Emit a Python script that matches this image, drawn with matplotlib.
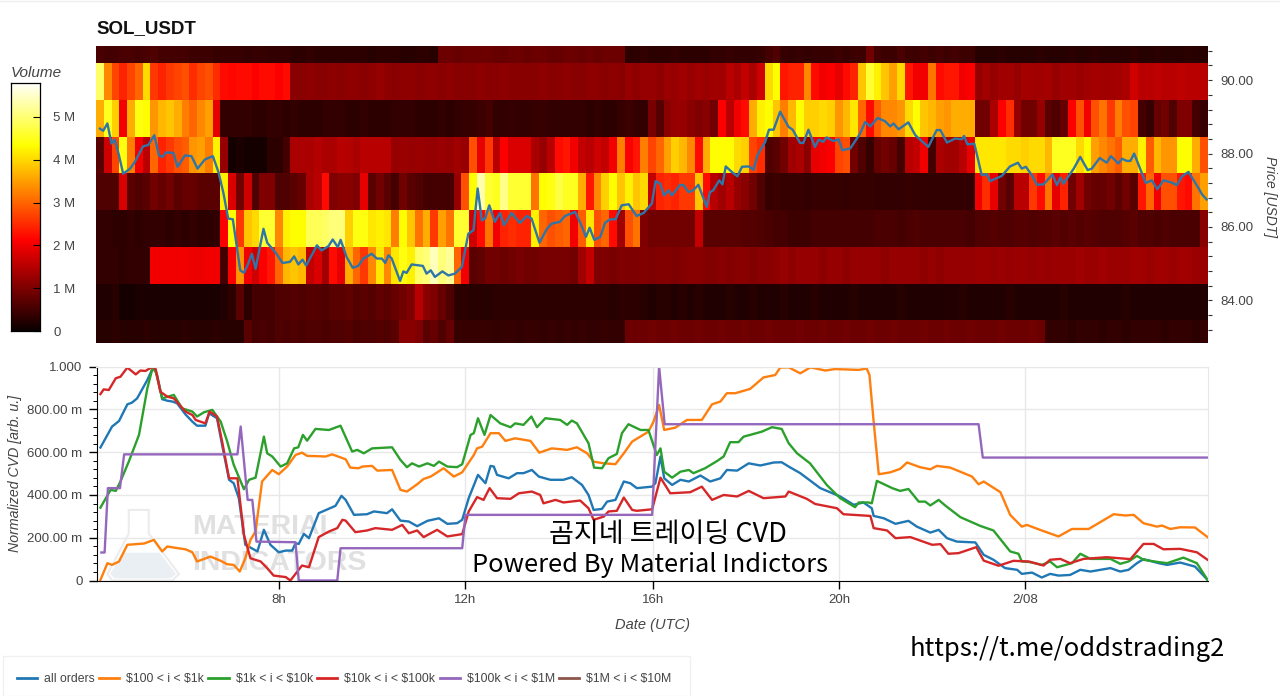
import numpy as np
import matplotlib
matplotlib.use('Agg')
import matplotlib.pyplot as plt
from matplotlib.lines import Line2D
from matplotlib.ticker import MultipleLocator, FixedLocator, FuncFormatter
from matplotlib.patches import Polygon, Rectangle

W, H = 1280, 696
plt.rcParams['font.family'] = ['Liberation Sans', 'DejaVu Sans']

# volume per 10 min bin, in millions, one list per price bin (top to bottom)
vol_r0 = [.55,.5,.5,.55,.55,.5,.55,.6,.5,.5,
          .5,.5,.45,.45,.45,.4,.4,.4,.4,.35,
          .4,.4,.35,.35,.35,.3,.3,.35,.3,.3,
          .3,.3,.3,.3,.3,.25,.3,.3,.3,.25,
          .25,.3,.3,.25,.85,.85,.8,.85,.85,.85,
          .85,.8,.8,.85,.85,.8,.85,.85,.8,.8,
          .85,.85,.8,.85,.8,.85,.85,.85,.3,.3,
          .35,.3,.3,.3,.35,.3,.3,.3,.3,.35,
          .35,.4,.35,.35,.35,.4,.5,.6,.4,.35,
          .4,.35,.4,.4,.4,.45,.4,.45,.45,.9,
          .5,.45,.45,.55,.45,.45,.5,.45,.5,.45,
          .5,.45,.45,.25,.25,.25,.3,.25,.25,.25,
          .25,.3,.25,.25,.25,.3,.25,.25,.3,.25,
          .25,.25,.25,.3,.25,.25,.3,.25,.25,.25,.3,.25,.25]
vol_r1 = [4.9,3.3,2.7,2.4,2.7,3.0,4.0,2.6,2.4,2.6,
          2.7,2.8,2.5,2.7,2.8,2.5,2.2,2.15,2.2,2.2,
          2.1,2.2,2.2,2.1,2.2,1.1,1.1,1.15,1.1,1.1,
          1.15,1.1,1.15,1.15,1.1,1.15,1.2,1.15,1.1,1.15,
          1.15,1.1,1.15,1.15,1.1,1.15,1.1,1.1,1.1,1.15,
          1.1,1.1,1.15,1.1,1.1,1.1,1.1,1.15,1.1,1.1,
          1.15,1.1,1.1,1.15,1.15,1.1,1.15,1.1,1.2,1.15,
          1.2,1.2,1.15,1.25,1.2,1.3,1.2,1.3,1.25,1.3,
          1.3,1.5,1.4,1.6,1.4,1.7,4.0,4.3,2.3,2.4,
          2.4,3.3,2.2,2.0,2.1,1.9,2.2,2.4,3.8,4.6,
          4.2,3.8,3.5,4.0,2.3,2.0,2.0,3.1,2.2,2.3,
          2.3,2.0,2.1,1.2,1.3,1.2,1.3,1.3,1.2,1.35,
          1.3,1.3,1.35,1.2,1.3,1.3,1.25,1.3,1.35,1.3,
          1.3,1.35,1.4,1.7,1.5,1.5,1.55,1.5,1.5,1.55,1.5,1.5,1.5]
vol_r2 = [3.6,4.5,3.9,2.0,3.6,4.4,4.3,3.4,3.7,3.8,
          3.6,3.2,3.0,3.3,3.5,1.9,.35,.35,.35,.35,
          .3,.3,.35,.35,.3,.35,.3,.3,.3,.35,
          .35,.35,.3,.3,.35,.3,.3,.3,.35,.35,
          .35,.3,.3,.3,.35,.3,.35,.4,.4,.45,
          .5,.35,.35,.4,.35,.35,.4,.4,.35,.35,
          .35,.35,.35,.3,.35,.3,.3,.4,.45,.35,
          .35,.95,.65,1.1,1.2,1.2,1.1,1.0,1.1,.9,
          2.1,1.5,2.0,2.2,3.6,4.2,4.3,3.8,3.2,3.7,
          4.3,3.9,3.9,4.0,3.9,3.4,3.7,4.1,3.0,2.2,
          2.9,3.3,3.3,3.4,4.0,4.3,3.8,3.7,3.5,3.4,
          3.6,3.6,3.6,.9,.9,1.4,2.1,2.5,1.2,.9,
          .9,1.2,.7,.6,.8,2.1,2.8,2.0,2.8,3.1,
          2.6,3.2,2.8,2.7,.5,.4,.8,.9,.6,1.0,1.0,.5,.4]
vol_r3 = [.7,1.7,2.7,4.4,3.2,2.0,1.5,3.0,2.4,2.6,
          2.8,2.9,3.4,3.5,3.2,4.2,1.2,.1,.15,.1,
          .1,.1,.3,.3,.5,1.4,1.4,1.4,1.45,1.4,
          1.4,1.5,1.45,1.4,1.5,1.5,1.5,1.5,1.2,1.25,
          1.2,1.25,1.2,1.2,1.25,1.2,1.3,1.2,2.8,1.9,
          2.6,1.5,2.1,1.8,1.8,1.8,1.4,1.2,1.5,2.2,
          2.3,2.0,1.6,1.5,1.7,1.6,2.0,3.2,2.1,2.3,
          3.2,2.7,3.0,3.5,3.9,3.7,3.3,2.2,3.6,4.3,
          4.3,4.3,4.0,3.9,2.7,2.5,.6,.7,.9,1.3,
          1.4,1.1,1.9,2.0,2.1,2.7,2.8,.9,.6,.4,
          .8,.9,.8,.5,1.5,1.6,2.0,.5,1.4,1.3,
          1.3,1.5,1.9,4.1,4.1,4.1,4.1,4.0,4.0,3.9,
          4.0,4.0,3.7,4.5,4.5,4.5,4.0,4.3,3.5,3.3,
          3.1,2.9,3.6,3.6,4.2,2.9,3.7,3.4,3.4,4.3,4.3,3.6,2.8]
vol_r4 = [.6,.6,.6,1.8,.7,.6,.7,.9,.8,.9,
          .7,.8,.8,.7,.7,.7,4.2,1.8,.9,1.7,
          .6,1.0,1.0,.6,.6,.7,.8,1.4,1.5,2.2,
          1.0,1.1,1.1,1.0,1.9,.7,.9,.7,.5,.9,
          .7,.6,.5,.5,.5,.5,1.2,2.8,4.3,5.3,
          4.6,4.5,5.1,4.6,4.6,4.6,3.1,4.3,4.4,4.7,
          4.5,4.5,3.6,2.3,3.3,3.9,4.3,3.8,4.2,3.8,
          4.0,1.6,2.4,2.5,2.4,2.6,2.6,3.8,2.2,1.5,
          1.3,1.5,1.2,1.1,.9,.6,.4,.45,.4,.4,
          .4,.35,.4,.4,.4,.4,.35,.4,.4,.4,
          .35,.35,.35,.35,.4,.35,.35,.35,.35,.35,
          .35,.35,.35,2.0,2.5,1.9,.9,.7,1.5,1.5,
          2.6,2.2,3.1,1.9,2.4,.9,1.3,.9,.8,.8,
          .9,.7,.9,.7,2.3,3.0,2.0,2.8,2.8,2.3,2.2,3.1,3.5]
vol_r5 = [.35,.35,.3,.3,.35,.3,.35,.35,.35,.3,
          .35,.3,.35,.3,.3,.35,2.1,4.3,2.6,3.8,
          4.0,4.6,4.6,3.3,4.2,4.3,4.3,4.8,4.8,4.9,
          5.0,5.0,3.9,4.4,4.4,4.1,4.2,4.1,3.2,4.3,
          3.8,3.1,3.6,2.6,3.5,3.1,4.6,4.6,1.7,2.2,
          3.1,2.0,2.4,2.5,2.4,2.4,4.2,3.0,2.8,2.9,
          3.0,2.0,2.9,4.1,2.8,3.0,2.2,1.3,2.8,3.1,
          1.0,.9,.9,.9,.9,.9,.9,1.6,.7,.7,
          .7,.7,.7,.65,.65,.6,.55,.5,.5,.45,
          .45,.45,.5,.5,.5,.5,.5,.5,.5,.5,
          .55,.55,.55,.5,.55,.6,.55,.55,.55,.55,
          .55,.55,.5,.6,.6,.65,.6,.6,.65,.65,
          .6,.65,.65,.7,.65,.7,.65,.7,.65,.6,
          .6,.6,.65,.7,.6,.6,.55,.6,.55,.55,.55,.55,1.1]
vol_r6 = [.35,.35,.35,.3,.35,.35,.35,2.0,2.0,2.0,
          2.0,2.0,1.95,1.95,2.0,2.0,.5,2.1,3.4,2.0,
          1.7,2.1,2.3,3.0,3.7,3.8,3.7,1.6,1.8,1.3,
          2.2,1.9,3.6,3.0,2.6,3.3,4.1,3.3,4.1,4.4,
          4.2,4.9,5.0,5.4,5.0,5.2,3.0,2.0,.7,.75,
          .9,.9,.85,.9,.95,.9,.9,.95,.95,.95,
          .95,.9,1.3,1.6,1.0,1.0,.95,1.0,1.0,1.0,
          1.05,1.0,1.05,1.05,1.0,1.05,1.1,1.1,1.05,1.05,
          1.1,1.05,1.1,1.1,1.05,1.1,1.1,1.15,1.2,1.15,
          1.2,1.2,1.2,1.15,1.2,1.2,1.15,1.2,1.2,1.2,
          1.2,1.15,1.2,1.2,1.2,1.2,1.15,1.2,1.15,1.2,
          1.2,1.2,1.2,1.25,1.25,1.2,1.25,1.2,1.25,1.25,
          1.2,1.25,1.2,1.25,1.25,1.25,1.3,1.25,1.25,1.3,
          1.25,1.25,1.25,1.3,1.3,1.25,1.3,1.3,1.25,1.3,1.3,1.25,1.25]
vol_r7 = [.2,.2,.25,.1,.1,.15,.15,.15,.15,.15,
          .15,.15,.15,.15,.15,.15,.2,.3,.7,.3,
          .5,.5,.5,.6,.6,.65,.6,.65,.65,.6,
          .7,.7,.75,.65,.7,.65,.75,.7,.8,.9,
          1.0,1.5,1.1,1.0,.8,.6,.3,.3,.25,.25,
          .25,.3,.3,.3,.3,.3,.3,.3,.3,.3,
          .3,.3,.3,.3,.3,.3,.25,.3,.3,.3,
          .25,.2,.25,.25,.2,.25,.2,.25,.2,.2,
          .2,.25,.2,.2,.25,.2,.2,.2,.25,.2,
          .2,.2,.25,.2,.2,.2,.2,.25,.2,.2,
          .2,.2,.2,.25,.2,.2,.2,.2,.2,.2,
          .2,.25,.2,.2,.2,.2,.2,.25,.2,.2,
          .2,.2,.2,.2,.25,.2,.2,.2,.2,.2,
          .2,.2,.25,.2,.2,.2,.2,.2,.2,.2,.2,.2,.2]
vol_r8 = [.25,.25,.3,.25,.25,.25,.3,.25,.25,.25,
          .25,.3,.25,.25,.25,.3,.25,.25,.25,.7,
          .5,.55,.5,.6,.55,.6,.55,.6,.6,.55,
          .6,.6,.65,.55,.6,.6,.65,.6,.7,1.1,
          1.1,1.0,.7,.8,.6,.8,.4,.4,.4,.4,
          .4,.35,.4,.4,.35,.4,.4,.35,.4,.35,
          .4,.35,.4,.35,.35,.4,.35,.35,.85,.85,
          .85,.9,.85,.85,.9,.85,.85,.9,.85,.85,
          .9,.85,.85,.9,.85,.85,.9,.85,.85,.85,
          .9,.85,.85,.9,.85,.85,.9,.85,.85,.9,
          .85,.85,.9,.85,.85,.85,.9,.85,.85,.9,
          .85,.85,.9,.85,.85,.85,.9,.85,.85,.85,
          .9,.85,.35,.35,.35,.3,.35,.35,.35,.3,
          .35,.35,.3,.35,.35,.35,.35,.3,.35,.35,.35,.3,.35]
price_edges = [82.84, 83.46, 84.46, 85.46, 86.46, 87.46, 88.46, 89.46, 90.46, 90.93]

# hours since 2/07 00:00 UTC
price_t = [4.15,4.22,4.31,4.40,4.47,4.55,4.65,4.80,4.90,5.08,5.19,5.32,5.42,5.50,5.57,5.73,5.82,5.98,6.12,6.25,6.41,6.58,6.70,6.81,6.91,7.01,7.17,7.25,7.34,7.42,7.50,7.67,7.75,7.92,8.08,8.24,8.33,8.42,8.51,8.59,8.82,8.92,9.07,9.16,9.27,9.33,9.46,9.59,9.71,9.82,10.0,10.11,10.22,10.29,10.36,10.43,10.61,10.68,10.75,10.86,11.10,11.18,11.27,11.36,11.52,11.65,11.79,11.94,12.08,12.19,12.28,12.37,12.44,12.53,12.65,12.76,12.85,13.01,13.19,13.34,13.44,13.61,13.77,13.87,14.05,14.16,14.38,14.48,14.61,14.69,14.79,14.92,15.02,15.13,15.25,15.38,15.53,15.70,15.85,16.03,16.11,16.21,16.29,16.39,16.46,16.64,16.71,16.82,16.92,17.03,17.21,17.28,17.35,17.48,17.55,17.62,17.75,17.87,17.97,18.11,18.22,18.30,18.47,18.55,18.65,18.79,18.97,19.06,19.22,19.29,19.40,19.54,19.62,19.72,19.79,19.94,20.05,20.13,20.30,20.51,20.62,20.73,20.89,21.05,21.16,21.23,21.34,21.55,21.70,21.98,22.16,22.24,22.38,22.56,22.70,22.75,22.82,22.97,23.13,23.24,23.31,23.56,23.74,23.91,23.99,24.08,24.21,24.32,24.46,24.65,24.75,24.82,24.89,25.11,25.25,25.41,25.50,25.67,25.82,25.91,26.07,26.15,26.25,26.33,26.41,26.66,26.79,26.91,27.04,27.22,27.33,27.44,27.58,27.80,27.87,27.97]
price = [88.68,88.62,88.82,88.27,88.38,88.0,87.45,87.59,87.77,88.2,88.23,88.5,87.95,87.91,88.03,88.02,87.64,87.95,87.93,87.59,87.84,87.93,87.5,86.91,86.23,86.21,84.82,84.75,85.0,85.27,84.86,85.95,85.57,85.32,85.02,85.05,85.2,84.98,85.11,84.95,85.5,85.36,85.48,85.66,85.45,85.65,85.18,84.89,84.94,85.14,85.27,85.14,85.14,85.02,85.23,85.14,84.53,84.79,84.75,84.98,84.94,84.73,84.82,84.64,84.79,84.68,84.73,84.91,85.82,85.91,87.05,86.18,86.23,86.59,86.14,86.38,86.05,86.38,86.11,86.30,86.23,85.57,85.95,86.09,86.14,86.30,86.41,86.14,85.73,85.98,85.65,85.73,86.11,86.21,86.21,86.59,86.62,86.30,86.38,86.64,87.25,87.18,86.86,87.0,86.86,87.15,87.14,86.95,87.0,87.15,86.55,86.95,87.0,87.27,87.16,87.65,87.5,87.38,87.64,87.65,87.56,87.95,88.32,88.65,88.65,89.14,88.73,88.65,88.29,88.29,88.65,88.18,88.38,88.32,88.44,88.34,88.39,88.09,88.14,88.54,88.86,88.74,88.97,88.88,88.74,88.82,88.66,88.85,88.5,88.18,88.64,88.64,88.3,88.41,88.39,88.48,88.25,88.27,87.41,87.44,87.25,87.39,87.65,87.75,87.59,87.64,87.41,87.15,87.16,87.43,87.14,87.35,87.18,87.59,87.91,87.55,87.59,87.88,87.75,87.93,87.73,87.86,87.8,87.8,88.0,87.2,87.27,87.03,87.27,87.21,87.14,87.38,87.5,87.05,86.89,86.75]

all_t = [4.15,4.40,4.55,4.73,4.83,4.94,5.16,5.29,5.37,5.48,5.59,5.70,5.80,5.98,6.13,6.23,6.41,6.49,6.66,6.77,6.92,7.02,7.13,7.27,7.53,7.67,7.81,7.99,8.14,8.28,8.35,8.42,8.53,8.64,8.85,9.21,9.34,9.43,9.61,9.89,10.04,10.32,10.43,10.61,10.79,10.97,11.19,11.44,11.62,11.83,11.94,12.08,12.28,12.44,12.55,12.62,12.69,12.94,13.12,13.26,13.44,13.59,13.84,14.12,14.30,14.52,14.66,14.77,14.95,15.06,15.24,15.42,15.56,15.70,16.03,16.10,16.21,16.29,16.46,16.64,16.82,17.07,17.28,17.50,17.64,17.86,18.11,18.36,18.65,18.82,18.97,19.22,19.65,20.08,20.37,20.58,20.76,20.80,21.02,21.27,21.55,21.73,22.02,22.20,22.38,22.59,22.99,23.17,23.38,23.63,23.89,23.99,24.21,24.42,24.60,24.78,25.03,25.25,25.47,25.90,26.11,26.29,26.47,26.61,26.94,27.12,27.40,27.72,27.99]
all_v = [.622,.720,.746,.824,.832,.852,.938,1.0,.961,.848,.841,.837,.829,.777,.743,.724,.724,.782,.759,.634,.471,.455,.385,.167,.136,.237,.167,.132,.140,.140,.174,.171,.218,.198,.315,.349,.396,.377,.307,.310,.323,.315,.333,.280,.276,.254,.279,.291,.265,.268,.284,.385,.494,.455,.536,.533,.494,.478,.502,.502,.517,.486,.471,.471,.483,.447,.400,.330,.335,.369,.377,.463,.455,.432,.439,.455,.580,.478,.447,.471,.463,.491,.463,.478,.517,.514,.548,.538,.552,.553,.533,.502,.432,.393,.354,.365,.338,.302,.291,.265,.279,.252,.224,.237,.198,.182,.178,.120,.097,.058,.050,.031,.037,.014,.031,.023,.026,.050,.042,.058,.042,.050,.081,.100,.081,.073,.084,.065,.003]

o1_t = [4.15,4.30,4.40,4.55,4.73,5.09,5.30,5.48,5.59,5.73,5.98,6.13,6.23,6.52,6.74,6.88,7.02,7.15,7.27,7.38,7.49,7.63,7.85,7.99,8.17,8.35,8.49,8.60,9.00,9.14,9.43,9.53,9.71,9.79,10.00,10.11,10.43,10.61,10.75,10.97,11.11,11.26,11.54,11.76,11.94,12.19,12.26,12.37,12.55,12.73,12.87,13.08,13.41,13.60,13.87,14.20,14.41,14.63,14.77,14.99,15.24,15.42,15.60,15.95,16.06,16.18,16.29,16.53,16.78,17.10,17.32,17.50,17.64,17.82,18.14,18.43,18.68,18.79,18.97,19.22,19.44,19.76,19.97,20.48,20.65,20.71,20.80,20.91,21.16,21.37,21.52,21.80,22.02,22.16,22.45,22.92,23.06,23.17,23.53,23.74,23.99,24.10,24.42,24.78,25.07,25.43,25.97,26.22,26.40,26.61,26.90,27.01,27.19,27.40,27.72,27.99]
o1_v = [.003,.081,.073,.089,.167,.173,.190,.136,.159,.154,.146,.132,.089,.112,.092,.076,.073,.042,.104,.190,.229,.463,.517,.497,.533,.587,.598,.583,.580,.590,.567,.528,.525,.533,.536,.514,.517,.424,.416,.450,.475,.486,.525,.486,.506,.587,.618,.626,.689,.689,.653,.665,.653,.598,.618,.611,.623,.595,.556,.548,.544,.595,.650,.696,.743,.821,.704,.715,.751,.751,.824,.837,.876,.876,.896,.950,.961,.996,.997,.969,.997,.982,.989,.985,.992,.961,.743,.497,.506,.522,.552,.530,.520,.536,.528,.486,.450,.463,.413,.307,.252,.260,.234,.206,.241,.241,.310,.304,.307,.268,.252,.257,.241,.249,.248,.203]

o2_t = [4.15,4.37,4.48,4.58,4.76,4.98,5.16,5.27,5.34,5.48,5.73,5.91,6.13,6.23,6.38,6.56,6.74,6.88,7.02,7.24,7.35,7.49,7.67,7.74,7.85,8.03,8.17,8.32,8.41,8.51,8.60,8.78,9.07,9.32,9.57,9.68,9.82,10.00,10.43,10.61,10.75,10.86,11.01,11.19,11.33,11.44,11.62,11.83,11.94,12.12,12.19,12.28,12.42,12.55,12.76,12.98,13.08,13.26,13.43,13.55,13.73,14.05,14.20,14.30,14.41,14.66,14.78,14.95,15.09,15.27,15.38,15.52,15.78,15.95,16.13,16.21,16.29,16.46,16.64,16.82,16.92,17.17,17.43,17.57,17.71,17.89,18.00,18.14,18.39,18.61,18.82,18.97,19.15,19.43,19.79,20.08,20.40,20.48,20.69,20.76,20.87,21.20,21.37,21.55,21.77,21.91,22.02,22.20,22.34,22.67,23.10,23.38,23.74,23.92,23.99,24.17,24.42,24.60,24.75,25.07,25.25,25.47,25.90,26.11,26.29,26.47,26.61,26.94,27.12,27.47,27.76,27.99]
o2_v = [.341,.424,.419,.463,.556,.681,.899,.992,.977,.852,.868,.805,.790,.767,.787,.798,.743,.650,.541,.427,.471,.481,.673,.595,.580,.533,.548,.618,.623,.681,.654,.709,.704,.724,.603,.611,.595,.618,.623,.564,.530,.548,.533,.548,.536,.556,.533,.530,.544,.681,.689,.759,.681,.774,.735,.717,.735,.728,.767,.717,.759,.751,.728,.748,.735,.642,.528,.525,.572,.592,.689,.731,.704,.704,.587,.618,.509,.481,.509,.517,.502,.525,.559,.580,.647,.647,.673,.681,.696,.717,.709,.642,.595,.548,.447,.385,.343,.365,.365,.361,.466,.432,.419,.428,.369,.369,.351,.377,.351,.296,.255,.234,.136,.125,.089,.086,.073,.089,.062,.081,.125,.101,.101,.078,.089,.115,.097,.086,.081,.107,.081,.003]

o3_t = [4.15,4.22,4.33,4.48,4.58,4.73,4.91,5.01,5.12,5.27,5.34,5.44,5.59,5.73,5.98,6.13,6.20,6.41,6.50,6.66,6.77,6.92,7.10,7.24,7.38,7.60,7.74,7.88,8.14,8.24,8.49,8.64,8.85,9.07,9.25,9.36,9.43,9.64,9.89,10.07,10.43,10.65,10.79,10.97,11.11,11.40,11.62,11.94,12.08,12.26,12.40,12.53,12.69,12.98,13.16,13.44,13.62,13.69,13.95,14.12,14.48,14.66,14.77,14.99,15.09,15.27,15.42,15.60,15.70,16.03,16.21,16.42,16.85,17.10,17.32,17.57,17.86,18.11,18.43,18.90,18.97,19.36,19.54,20.01,20.15,20.73,20.80,21.09,21.27,21.59,22.06,22.24,22.41,22.63,23.01,23.17,23.49,23.81,24.14,24.46,24.60,24.82,25.03,25.32,25.82,26.33,26.61,26.83,27.04,27.40,27.76,27.99]
o3_v = [.872,.894,.891,.946,.953,.996,.964,.982,.980,1.0,.989,.883,.860,.852,.790,.774,.751,.735,.790,.767,.650,.478,.478,.213,.104,.089,.058,.023,.016,0,.070,.062,.203,.229,.245,.284,.280,.226,.234,.245,.237,.260,.221,.234,.203,.237,.206,.217,.323,.390,.377,.432,.385,.382,.408,.416,.400,.361,.377,.365,.374,.338,.284,.299,.323,.326,.388,.330,.326,.333,.481,.408,.413,.439,.377,.400,.393,.419,.385,.393,.416,.382,.358,.338,.310,.302,.245,.234,.198,.203,.167,.170,.125,.128,.156,.093,.069,.092,.089,.070,.097,.101,.081,.101,.109,.100,.171,.171,.146,.148,.132,.097]

o4_t = [4.17,4.24,4.31,4.57,4.66,7.10,7.17,7.32,7.42,7.51,8.35,8.42,9.25,9.32,11.94,12.01,16.03,16.18,16.30,23.06,23.15,27.99]
o4_v = [.131,.131,.432,.432,.590,.590,.720,.377,.377,.182,.179,0,0,.151,.151,.307,.307,1.0,.731,.731,.575,.575]

series_names = ['all orders', r'\$100 < i < \$1k', r'\$1k < i < \$10k', r'\$10k < i < \$100k',
                r'\$100k < i < \$1M', r'\$1M < i < \$10M']
series_colors = ['#1f77b4', '#ff7f0e', '#2ca02c', '#d62728', '#9467bd', '#8c564b']
vol_ticks = [0, 1, 2, 3, 4, 5]
vol_max = 5.79
cvd_ticks = [0, .2, .4, .6, .8, 1.0]
cvd_labels = ['0', '200.00 m', '400.00 m', '600.00 m', '800.00 m', '1.000']
time_ticks = [8, 12, 16.05, 20.06, 24.06]
time_labels = ['8h', '12h', '16h', '20h', '2/08']
xlim = (4.065, 28.0)
grey = '#444444'


def box(x0, y0, x1, y1):
    # pixel box -> figure fractions
    return [x0 / W, 1 - y1 / H, (x1 - x0) / W, (y1 - y0) / H]


fig = plt.figure(figsize=(W / 100, H / 100), dpi=100)
fig.add_artist(Line2D([0, 1], [1 - 0.5 / H, 1 - 0.5 / H], color='#eeeeee', lw=1))

# 히트맵 + 가격
ax1 = fig.add_axes(box(96, 46, 1208, 343))
vol = np.array([vol_r8, vol_r7, vol_r6, vol_r5, vol_r4, vol_r3, vol_r2, vol_r1, vol_r0])
t_edges = np.linspace(xlim[0], xlim[1], vol.shape[1] + 1)
ax1.pcolormesh(t_edges, price_edges, vol, cmap='hot', vmin=0, vmax=vol_max, shading='flat')
ax1.plot(price_t, price, color='#2f75a8', lw=1.7)
ax1.set_xlim(*xlim)
ax1.set_ylim(price_edges[0], price_edges[-1])
ax1.set_xticks([])
for s in ax1.spines.values():
    s.set_visible(False)
ax1.yaxis.tick_right()
ax1.yaxis.set_major_locator(MultipleLocator(2))
ax1.yaxis.set_minor_locator(MultipleLocator(0.4))
ax1.yaxis.set_major_formatter(FuncFormatter(lambda v, p: f'{v:.2f}'))
ax1.tick_params(axis='y', which='major', length=2.8, width=0.8, color='#333333', pad=6.2, labelsize=9.5, labelcolor=grey)
ax1.tick_params(axis='y', which='minor', length=2.8, width=0.8, color='#333333')
fig.text(1270 / W, 1 - 197 / H, 'Price [USDT]', rotation=-90, style='italic', fontsize=10,
         color=grey, ha='center', va='center')
fig.text(96 / W, 1 - 29 / H, 'SOL_USDT', fontsize=13.5, fontweight='bold', color='#111111', ha='left', va='center')

# 컬러바
cax = fig.add_axes(box(11, 83, 40, 331))
grad = np.linspace(0, vol_max, 256).reshape(-1, 1)
cax.imshow(grad, cmap='hot', vmin=0, vmax=vol_max, aspect='auto', origin='lower', extent=[0, 1, 0, vol_max])
cax.set_xticks([])
cax.set_yticks(vol_ticks)
cax.set_yticklabels(['0', '1 M', '2 M', '3 M', '4 M', '5 M'])
cax.yaxis.tick_right()
cax.tick_params(axis='y', direction='in', length=5, width=0.8, color='black', pad=9.5, labelsize=9.5, labelcolor=grey)
for lab in cax.get_yticklabels():
    lab.set_horizontalalignment('left')
for s in cax.spines.values():
    s.set_linewidth(0.9)
fig.text(36 / W, 1 - 73 / H, 'Volume', style='italic', fontsize=11, color=grey, ha='center', va='center')

# CVD
ax2 = fig.add_axes(box(96.5, 366.7, 1208, 580.5))
ax2.set_xlim(*xlim)
ax2.set_ylim(0, 1)
ax2.set_axisbelow(True)
ax2.grid(True, which='major', color='#e8e8e8', lw=1)

# watermark
flask = Polygon([(4.76, .33), (5.19, .33), (5.19, .22), (5.84, .03), (5.7, 0), (4.4, 0), (4.30, .03), (4.76, .22)],
                closed=True, facecolor='white', edgecolor='#ececec', lw=1.5, zorder=0.5)
ax2.add_patch(flask)
liquid = Polygon([(4.62, .13), (5.42, .13), (5.78, .03), (5.65, .01), (4.45, .01), (4.36, .03)],
                 closed=True, facecolor='#e9eff3', edgecolor='none', zorder=0.6)
ax2.add_patch(liquid)
ax2.text(6.13, .25, 'MATERIAL', fontsize=20.5, fontweight='bold', color='#e0e0e0', va='center', ha='left', zorder=0.7)
ax2.text(6.13, .08, 'INDICATORS', fontsize=20.5, fontweight='bold', color='#e0e0e0', va='center', ha='left', zorder=0.7)

times = [all_t, o1_t, o2_t, o3_t, o4_t, []]
values = [all_v, o1_v, o2_v, o3_v, o4_v, []]
for t, v, c, name in zip(times, values, series_colors, series_names):
    ax2.plot(t, v, color=c, lw=1.7, label=name, solid_joinstyle='round', zorder=2)

# 보라색이 위로
ax2.lines[4].set_zorder(2.5)

ax2.set_yticks(cvd_ticks)
ax2.set_yticklabels(cvd_labels)
ax2.yaxis.set_minor_locator(MultipleLocator(0.04))
ax2.xaxis.set_major_locator(FixedLocator(time_ticks))
ax2.set_xticklabels(time_labels)
ax2.tick_params(axis='both', which='major', length=6, width=1, pad=4, labelsize=9.5, labelcolor=grey)
ax2.tick_params(axis='y', which='minor', length=3, width=0.7)
for side in ['top', 'right']:
    ax2.spines[side].set_color('#e8e8e8')
ax2.set_ylabel('Normalized CVD [arb. u.]', style='italic', fontsize=10.2, color=grey, labelpad=4)
ax2.set_xlabel('Date (UTC)', style='italic', fontsize=10.5, color=grey, labelpad=8)

# 범례
fig.add_artist(Rectangle((3 / W, 0), 687 / W, 40 / H, transform=fig.transFigure,
                         facecolor='white', edgecolor='#f0f0f0', lw=1))
leg = fig.legend(*ax2.get_legend_handles_labels(), loc='lower left', bbox_to_anchor=(17 / W, 11 / H),
                 ncol=6, frameon=False, fontsize=8.8, handlelength=1.65, handletextpad=0.57,
                 columnspacing=0.35, borderpad=0, borderaxespad=0)
for line in leg.get_lines():
    line.set_linewidth(2)
for text in leg.get_texts():
    text.set_color(grey)

# 덧붙인 글자
cjk = ['Noto Sans CJK KR', 'DejaVu Sans']
fig.text(668 / W, 1 - 535 / H, '곰지네 트레이딩 CVD', family=cjk, fontsize=19.5, fontweight='medium', color='black', ha='center', va='center')
fig.text(650 / W, 1 - 565 / H, 'Powered By Material Indictors', family=cjk, fontsize=18.3, fontweight='medium', color='black', ha='center', va='center')
fig.text(1067.5 / W, 1 - 649 / H, 'https://t.me/oddstrading2', family=cjk, fontsize=18.4, fontweight='medium', color='black', ha='center', va='center')

fig.savefig('out.png', dpi=100)
